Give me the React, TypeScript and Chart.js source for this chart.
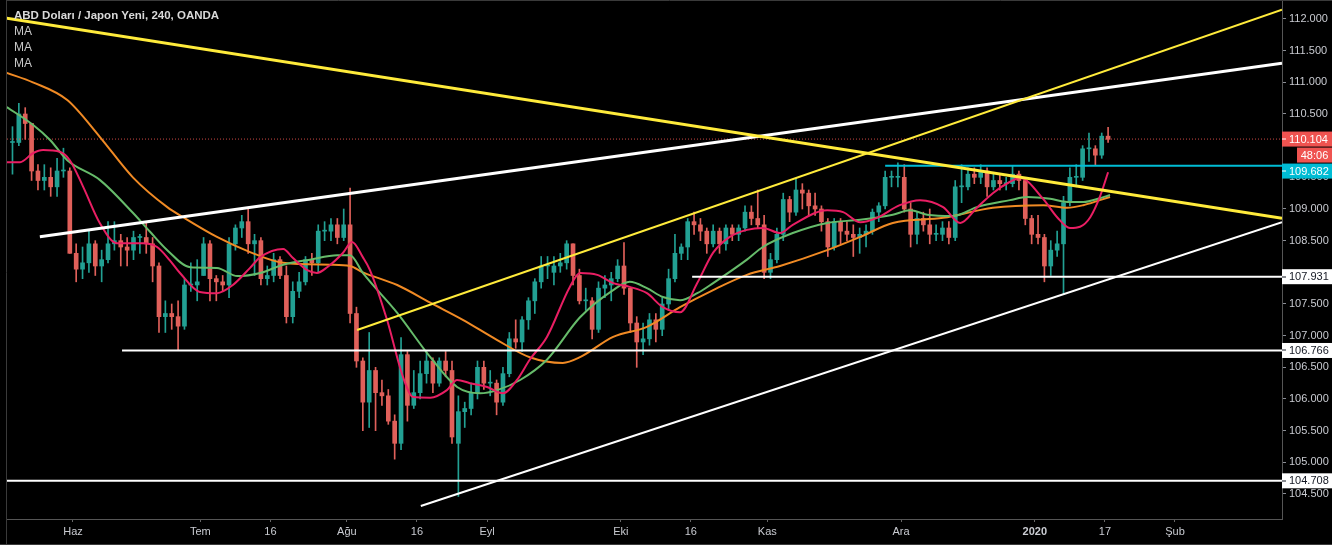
import React, { useEffect, useRef } from 'react';
import { Chart, registerables } from 'chart.js';

Chart.register(...registerables);

// ---------- data ----------
const TITLE = 'ABD Doları / Japon Yeni, 240, OANDA';
const INDICATORS = ['MA', 'MA', 'MA'];

// daily candles, trading-day index 0 = 2019-05-20 (weekdays, Dec 25 and Jan 1 excluded)
const opens = [
  110.05, 110.05, 110.5, 110.35, 109.6, 109.45, 109.5, 109.35, 109.6, 109.6,
  108.3, 108.05, 108.15, 108.45, 108.1, 108.2, 108.45, 108.5, 108.4, 108.35,
  108.55, 108.55, 108.45, 108.1, 107.3, 107.35, 107.3, 107.15, 107.8, 107.8,
  107.95, 108.45, 107.9, 107.85, 107.8, 108.45, 108.7, 108.8, 108.45, 108.5,
  107.9, 107.95, 108.2, 107.95, 107.3, 107.7, 107.85, 108.2, 108.15, 108.65,
  108.65, 108.75, 108.55, 108.75, 107.35, 106.6, 105.95, 106.45, 106.1, 106.05,
  105.65, 105.3, 106.7, 105.9, 106.1, 106.4, 106.6, 106.25, 106.6, 106.45,
  105.3, 105.8, 105.85, 106.1, 106.5, 106.25, 106.25, 105.95, 106.4, 106.95,
  106.9, 107.25, 107.55, 107.85, 108.1, 108.0, 108.1, 108.15, 108.45, 107.95,
  107.55, 107.55, 107.1, 107.75, 107.8, 107.9, 108.1, 107.75, 107.2, 106.9,
  106.95, 107.25, 107.1, 107.5, 107.9, 108.3, 108.4, 108.8, 108.75, 108.65,
  108.45, 108.65, 108.45, 108.7, 108.6, 108.7, 108.95, 108.85, 108.75, 108.0,
  108.2, 108.6, 109.15, 108.95, 109.3, 109.25, 109.05, 109.0, 108.8, 108.4,
  108.8, 108.65, 108.6, 108.55, 108.6, 108.65, 108.95, 109.05, 109.5, 109.5,
  109.5, 109.0, 108.6, 108.85, 108.75, 108.6, 108.6, 108.7, 108.55, 109.35,
  109.35, 109.55, 109.5, 109.6, 109.35, 109.45, 109.4, 109.4, 109.55, 109.45,
  108.85, 108.6, 108.55, 108.1, 108.35, 108.45, 109.1, 109.5, 109.5, 109.95,
  109.95, 109.85, 110.15,
];
const highs = [
  110.3, 110.67, 110.6, 110.35, 109.7, 109.7, 109.65, 109.8, 109.96, 109.65,
  108.45, 108.4, 108.65, 108.5, 108.35, 108.8, 108.8, 108.6, 108.55, 108.65,
  108.6, 108.8, 108.55, 108.15, 107.55, 107.5, 107.55, 107.9, 108.15, 108.2,
  108.55, 108.5, 107.95, 107.95, 108.55, 108.75, 108.9, 109.0, 108.6, 108.55,
  108.1, 108.3, 108.25, 108.1, 107.85, 108.0, 108.25, 108.3, 108.75, 108.8,
  108.85, 108.85, 109.0, 109.33, 107.45, 106.65, 107.05, 106.5, 106.3, 106.15,
  105.75, 106.97, 106.75, 106.45, 106.6, 106.75, 106.65, 106.65, 106.75, 106.6,
  106.05, 105.95, 106.25, 106.6, 106.6, 106.45, 106.3, 106.5, 107.05, 107.25,
  107.3, 107.6, 107.9, 108.25, 108.25, 108.25, 108.3, 108.5, 108.45, 108.05,
  107.75, 107.6, 107.85, 107.95, 108.0, 108.2, 108.47, 107.75, 107.3, 107.2,
  107.35, 107.35, 107.6, 108.05, 108.6, 108.45, 108.85, 108.95, 108.85, 108.7,
  108.75, 108.7, 108.75, 108.75, 108.75, 109.05, 109.05, 109.3, 108.9, 108.3,
  108.7, 109.25, 109.2, 109.48, 109.4, 109.3, 109.25, 109.05, 108.85, 108.85,
  108.85, 108.8, 108.75, 108.7, 108.75, 109.0, 109.1, 109.6, 109.6, 109.73,
  109.7, 109.1, 108.95, 108.95, 109.0, 108.75, 108.8, 108.8, 109.45, 109.7,
  109.65, 109.65, 109.7, 109.65, 109.55, 109.55, 109.5, 109.68, 109.6, 109.5,
  108.9, 108.9, 108.6, 108.5, 108.65, 109.2, 109.65, 109.7, 110.0, 110.2,
  110.0, 110.2, 110.29,
];
const lows = [
  109.55, 110.0, 110.1, 109.45, 109.3, 109.3, 109.2, 109.2, 109.5, 108.3,
  107.85, 107.9, 108.0, 107.95, 107.85, 108.15, 108.35, 108.1, 108.1, 108.2,
  108.3, 108.3, 107.85, 107.05, 107.05, 107.1, 106.78, 107.1, 107.7, 107.55,
  107.95, 107.55, 107.55, 107.7, 107.6, 108.35, 108.55, 108.3, 107.95, 107.8,
  107.8, 107.85, 107.9, 107.2, 107.2, 107.6, 107.8, 107.95, 108.0, 108.5,
  108.5, 108.45, 108.5, 107.2, 106.5, 105.5, 105.55, 105.5, 105.9, 105.6,
  105.05, 105.2, 105.65, 105.85, 106.0, 106.25, 106.1, 106.2, 106.35, 105.3,
  104.46, 105.55, 105.75, 106.0, 106.15, 106.05, 105.75, 105.9, 106.35, 106.8,
  106.75, 107.1, 107.35, 107.75, 107.9, 107.8, 108.0, 108.05, 107.8, 107.5,
  107.4, 106.95, 107.05, 107.6, 107.55, 107.85, 107.65, 107.05, 106.5, 106.7,
  106.85, 106.9, 107.0, 107.4, 107.85, 108.2, 108.2, 108.6, 108.5, 108.3,
  108.4, 108.3, 108.35, 108.5, 108.5, 108.65, 108.75, 108.7, 107.9, 107.9,
  108.15, 108.5, 108.8, 108.9, 109.0, 108.9, 108.9, 108.65, 108.25, 108.35,
  108.45, 108.5, 108.25, 108.3, 108.4, 108.6, 108.8, 109.0, 109.35, 109.35,
  108.95, 108.4, 108.45, 108.65, 108.45, 108.5, 108.5, 108.45, 108.5, 109.1,
  109.3, 109.4, 109.4, 109.2, 109.3, 109.3, 109.3, 109.35, 109.3, 108.75,
  108.45, 108.45, 107.85, 107.95, 108.25, 107.65, 109.05, 109.35, 109.45, 109.75,
  109.7, 109.8, 110.05,
];
const closes = [
  110.05, 110.5, 110.35, 109.6, 109.45, 109.5, 109.35, 109.6, 109.6, 108.3,
  108.05, 108.15, 108.45, 108.1, 108.2, 108.45, 108.5, 108.4, 108.35, 108.55,
  108.55, 108.45, 108.1, 107.3, 107.35, 107.3, 107.15, 107.8, 107.8, 107.85,
  108.45, 107.9, 107.85, 107.8, 108.45, 108.7, 108.8, 108.45, 108.5, 107.9,
  107.95, 108.2, 107.95, 107.3, 107.7, 107.85, 108.2, 108.15, 108.65, 108.65,
  108.75, 108.55, 108.75, 107.35, 106.6, 105.95, 106.45, 106.1, 106.05, 105.65,
  105.3, 106.7, 105.9, 106.1, 106.4, 106.6, 106.25, 106.6, 106.45, 105.4,
  105.8, 105.85, 106.1, 106.5, 106.25, 106.25, 105.95, 106.4, 106.95, 106.9,
  107.25, 107.55, 107.85, 108.1, 108.1, 108.1, 108.15, 108.45, 107.95, 107.55,
  107.55, 107.1, 107.75, 107.8, 107.9, 108.1, 107.75, 107.2, 106.9, 106.95,
  107.25, 107.1, 107.5, 107.9, 108.3, 108.4, 108.8, 108.75, 108.65, 108.45,
  108.65, 108.45, 108.7, 108.6, 108.7, 108.95, 108.85, 108.75, 108.0, 108.2,
  108.6, 109.15, 108.95, 109.3, 109.25, 109.05, 109.0, 108.8, 108.4, 108.8,
  108.65, 108.6, 108.55, 108.6, 108.65, 108.95, 109.05, 109.5, 109.5, 109.5,
  109.0, 108.6, 108.85, 108.75, 108.6, 108.6, 108.7, 108.55, 109.35, 109.35,
  109.55, 109.5, 109.6, 109.35, 109.45, 109.4, 109.4, 109.55, 109.45, 108.85,
  108.6, 108.55, 108.1, 108.35, 108.45, 109.1, 109.5, 109.5, 109.95, 109.95,
  109.85, 110.15, 110.1,
];

// moving averages: [trading-day index, price]
const maFast = [
  [-0.4, 109.74], [1.7, 109.74], [3.7, 109.88], [5.3, 109.93], [8.0, 109.9], [9.5, 109.77],
  [11.6, 109.35], [14.2, 108.78], [16.9, 108.46], [21.0, 108.46], [23.2, 108.4], [25.2, 108.19],
  [26.8, 107.99], [29.9, 107.69], [32.6, 107.67], [35.1, 107.8], [37.8, 108.07], [39.4, 108.24],
  [43.0, 108.37], [44.5, 108.23], [46.7, 108.04], [48.3, 107.99], [49.9, 108.08], [52.4, 108.31],
  [53.8, 108.48], [55.5, 108.24], [56.6, 108.04], [59.3, 107.25], [61.8, 106.35], [63.4, 106.03],
  [66.1, 106.02], [68.7, 106.14], [70.3, 106.3], [72.3, 106.25], [75.0, 106.19], [77.5, 106.09],
  [79.7, 106.3], [81.7, 106.62], [84.4, 106.98], [88.0, 107.77], [89.6, 107.99], [92.3, 107.96],
  [94.8, 107.83], [97.4, 107.77], [100.1, 107.67], [102.6, 107.45], [105.3, 107.37], [108.0, 107.83],
  [110.5, 108.31], [113.1, 108.56], [115.8, 108.67], [118.3, 108.7], [121.0, 108.62], [123.0, 108.75],
  [128.4, 108.98], [130.9, 108.95], [133.6, 108.79], [136.2, 108.86], [139.8, 109.06], [143.0, 109.14],
  [146.6, 109.03], [149.3, 108.78], [151.9, 109.02], [154.4, 109.25], [157.1, 109.43], [158.7, 109.49],
  [162.3, 109.16], [164.5, 108.87], [166.5, 108.7], [168.1, 108.72], [169.7, 108.87], [171.2, 109.19],
  [172.5, 109.58],
];
const maMid = [
  [-0.4, 110.61], [3.7, 110.33], [6.4, 110.09], [9.1, 109.77], [14.2, 109.46], [19.4, 108.94],
  [22.1, 108.64], [24.8, 108.35], [28.4, 108.08], [32.6, 108.07], [35.8, 107.94], [39.4, 107.99],
  [43.0, 108.12], [47.2, 108.2], [51.5, 108.27], [53.5, 108.27], [55.5, 107.99], [60.9, 107.36],
  [66.1, 106.66], [70.3, 106.19], [73.9, 106.09], [76.6, 106.14], [80.2, 106.3], [84.4, 106.62],
  [89.6, 107.29], [94.8, 107.72], [97.4, 107.85], [100.1, 107.75], [102.6, 107.61], [105.3, 107.56],
  [108.0, 107.67], [110.5, 107.83], [115.8, 108.2], [118.3, 108.4], [123.0, 108.62], [128.4, 108.78],
  [133.6, 108.83], [138.7, 108.91], [141.4, 108.98], [144.1, 108.91], [148.2, 108.89], [151.9, 109.03],
  [157.1, 109.14], [159.8, 109.19], [163.4, 109.16], [166.1, 109.11], [168.6, 109.11], [171.2, 109.17],
  [172.8, 109.22],
];
const maSlow = [
  [-0.4, 111.15], [3.7, 111.0], [9.1, 110.72], [14.2, 110.14], [19.4, 109.5], [24.8, 109.03],
  [27.3, 108.87], [32.6, 108.56], [37.8, 108.32], [43.0, 108.15], [50.4, 108.12], [53.5, 108.1],
  [55.5, 108.0], [60.9, 107.8], [66.1, 107.52], [71.2, 107.25], [76.6, 106.93], [81.7, 106.66],
  [86.9, 106.57], [89.6, 106.66], [94.8, 106.98], [100.1, 107.14], [105.3, 107.45], [110.5, 107.72],
  [115.8, 107.96], [121.0, 108.1], [128.4, 108.35], [133.6, 108.56], [138.7, 108.78], [146.6, 108.86],
  [154.4, 109.02], [162.3, 109.06], [166.1, 109.02], [168.6, 109.06], [171.2, 109.14], [172.8, 109.19],
];

// drawn trend lines: [trading-day index, price]
const trendYellowDown = [[-1.46, 112.03], [199.8, 108.855]];
const trendYellowUp = [[54.6, 107.09], [199.8, 112.147]];
const trendWhiteUpper = [[4.8, 108.56], [199.8, 111.30]];
const trendWhiteLower = [[64.6, 104.31], [199.8, 108.79]];

// horizontal levels
const levelPrices = [109.682, 107.931, 106.766, 104.708];
const levelStartDays = [137.5, 107.2, 17.7, -0.36];

const lastPrice = 110.104;
const countdown = '48:06';

const xTickDays = [10, 30, 41, 53, 64, 75, 96, 107, 119, 140, 161, 172, 183];
const xTickLabels = ['Haz', 'Tem', '16', 'Ağu', '16', 'Eyl', 'Eki', '16', 'Kas', 'Ara', '2020', '17', 'Şub'];
const yTickValues = [104.5, 105, 105.5, 106, 106.5, 107, 107.5, 108, 108.5, 109, 109.5, 110, 110.5, 111, 111.5, 112];

// ---------- styles ----------
const X_MIN = -0.36;
const X_MAX = 199.8;
const Y_MIN = 104.105;
const Y_MAX = 112.3;
const FONT = '"Liberation Sans", Arial, sans-serif';
const UP = '#22a093';
const DOWN = '#e0605a';
const AXIS_TEXT = '#c9cbd1';
const LEVEL_COLORS = ['#00bcd4', '#ffffff', '#ffffff', '#ffffff'];
const LEVEL_TEXT = ['#ffffff', '#131722', '#131722', '#131722'];

const toPts = (arr: number[][]) => arr.map(([d, v]) => ({ x: d, y: v }));

// tick labels hidden when a price label sits on top of them
const hiddenByMarker = (v: number) =>
  [lastPrice, ...levelPrices].some((p) => Math.abs(p - v) < 0.15);

const overlayPlugin = {
  id: 'overlay',
  afterDraw(chart: any) {
    const { ctx } = chart;
    const y = chart.scales.y;
    const area = chart.chartArea;
    ctx.save();
    // frame
    ctx.strokeStyle = '#3a3a3a';
    ctx.lineWidth = 1;
    ctx.beginPath();
    ctx.moveTo(area.left - 0.5, 0);
    ctx.lineTo(area.left - 0.5, chart.height);
    ctx.moveTo(area.left, 0.5);
    ctx.lineTo(chart.width, 0.5);
    ctx.moveTo(0, chart.height - 0.5);
    ctx.lineTo(chart.width, chart.height - 0.5);
    ctx.stroke();

    // header
    ctx.textBaseline = 'middle';
    ctx.textAlign = 'left';
    ctx.fillStyle = '#d9d9d9';
    ctx.font = `bold 11.5px ${FONT}`;
    ctx.fillText(TITLE, 14, 16);
    ctx.fillStyle = '#c8c8c8';
    ctx.font = `12px ${FONT}`;
    INDICATORS.forEach((t, k) => ctx.fillText(t, 14, 32 + k * 15.6));

    // price labels on the axis
    const left = y.left;
    const right = chart.width;
    const h = 15;
    const box = (cy: number, bg: string, fg: string, text: string, x0: number, clear: boolean) => {
      if (clear) {
        ctx.fillStyle = '#000';
        ctx.fillRect(left + 1, cy - h / 2, right - left, h);
      }
      ctx.fillStyle = bg;
      ctx.fillRect(x0, cy - h / 2, right - x0, h);
      ctx.fillStyle = fg;
      ctx.font = `11px ${FONT}`;
      ctx.textBaseline = 'middle';
      if (x0 === left) {
        ctx.fillRect(left, Math.round(cy) - 0.5, 4, 1);
        ctx.textAlign = 'left';
        ctx.fillText(text, left + 7, cy + 0.5);
      } else {
        ctx.textAlign = 'center';
        ctx.fillText(text, (x0 + right) / 2, cy + 0.5);
      }
    };
    const cLast = y.getPixelForValue(lastPrice);
    box(cLast, '#ef5350', '#ffffff', lastPrice.toFixed(3), left, false);
    const cCount = cLast + h + 1;
    box(cCount, '#ef5350', '#ffffff', countdown, left + 15, true);
    levelPrices.forEach((p, k) => {
      let cy = y.getPixelForValue(p);
      if (k === 0) cy = Math.max(cy, cCount + h + 1);
      box(cy, LEVEL_COLORS[k], LEVEL_TEXT[k], p.toFixed(3), left, false);
    });
    ctx.restore();
  },
};

export default function App() {
  const ref = useRef<HTMLCanvasElement>(null);

  useEffect(() => {
    const idx = closes.map((_, i) => i);
    const colors = idx.map((i) => (closes[i] >= opens[i] ? UP : DOWN));

    const lineDs = (pts: number[][], color: string, width: number, order: number, extra: any = {}) => ({
      type: 'line',
      data: toPts(pts),
      borderColor: color,
      borderWidth: width,
      pointRadius: 0,
      fill: false,
      order,
      ...extra,
    });

    const datasets: any[] = [
      {
        type: 'bar',
        data: idx.map((i) => ({ x: i + 0.5, y: [lows[i], highs[i]] })),
        backgroundColor: colors,
        barThickness: 1,
        grouped: false,
        order: 12,
      },
      {
        type: 'bar',
        data: idx.map((i) => ({ x: i + 0.5, y: [opens[i], closes[i]] })),
        backgroundColor: colors,
        barThickness: 4,
        minBarLength: 1,
        grouped: false,
        order: 11,
      },
      lineDs([[X_MIN, lastPrice], [X_MAX, lastPrice]], 'rgba(239,83,80,0.85)', 1, 10, { borderDash: [1, 2] }),
      lineDs(maSlow, '#f08a24', 2, 8, { cubicInterpolationMode: 'monotone' }),
      lineDs(maMid, '#66bb6a', 2, 7, { cubicInterpolationMode: 'monotone' }),
      lineDs(maFast, '#e91e63', 2, 6, { cubicInterpolationMode: 'monotone' }),
      ...levelPrices.map((p, k) =>
        lineDs([[levelStartDays[k], p], [X_MAX, p]], LEVEL_COLORS[k], 2, 4)
      ),
      lineDs(trendWhiteLower, '#ffffff', 2, 3),
      lineDs(trendWhiteUpper, '#ffffff', 3, 3),
      lineDs(trendYellowUp, '#ffeb3b', 2, 2),
      lineDs(trendYellowDown, '#ffeb3b', 3, 1),
    ];

    const chart = new Chart(ref.current as HTMLCanvasElement, {
      type: 'bar',
      data: { datasets },
      options: {
        animation: false,
        responsive: false,
        devicePixelRatio: 1,
        events: [],
        layout: { padding: { left: 7, top: 0, right: 0, bottom: 0 } },
        plugins: { legend: { display: false }, tooltip: { enabled: false } },
        scales: {
          x: {
            type: 'linear',
            offset: false,
            min: X_MIN,
            max: X_MAX,
            afterBuildTicks: (s: any) => {
              s.ticks = xTickDays.map((v) => ({ value: v }));
            },
            afterFit: (s: any) => {
              s.height = 26;
              s.paddingLeft = 0;
              s.paddingRight = 0;
            },
            ticks: {
              autoSkip: false,
              maxRotation: 0,
              padding: 3,
              color: AXIS_TEXT,
              callback: (v: any) => xTickLabels[xTickDays.indexOf(v)],
              font: (c: any) => ({
                family: FONT,
                size: 11,
                weight: c.tick && c.tick.label === '2020' ? 'bold' : 'normal',
              }),
            },
            grid: { offset: false, drawOnChartArea: false, tickLength: 3, color: '#666' },
            border: { color: '#555' },
          },
          y: {
            type: 'linear',
            position: 'right',
            min: Y_MIN,
            max: Y_MAX,
            afterBuildTicks: (s: any) => {
              s.ticks = yTickValues.map((v) => ({ value: v }));
            },
            afterFit: (s: any) => {
              s.width = 50;
              s.paddingTop = 0;
              s.paddingBottom = 0;
            },
            ticks: {
              padding: 3,
              color: AXIS_TEXT,
              font: { family: FONT, size: 11 },
              callback: (v: any) => (hiddenByMarker(Number(v)) ? '' : Number(v).toFixed(3)),
            },
            grid: { drawOnChartArea: false, tickLength: 4, color: '#8a8d95' },
            border: { color: '#555' },
          },
        },
      } as any,
      plugins: [overlayPlugin],
    } as any);

    return () => chart.destroy();
  }, []);

  return (
    <div style={{ position: 'fixed', left: 0, top: 0, width: 1332, height: 545, background: '#000' }}>
      <canvas ref={ref} width={1332} height={545} style={{ display: 'block' }} />
    </div>
  );
}
